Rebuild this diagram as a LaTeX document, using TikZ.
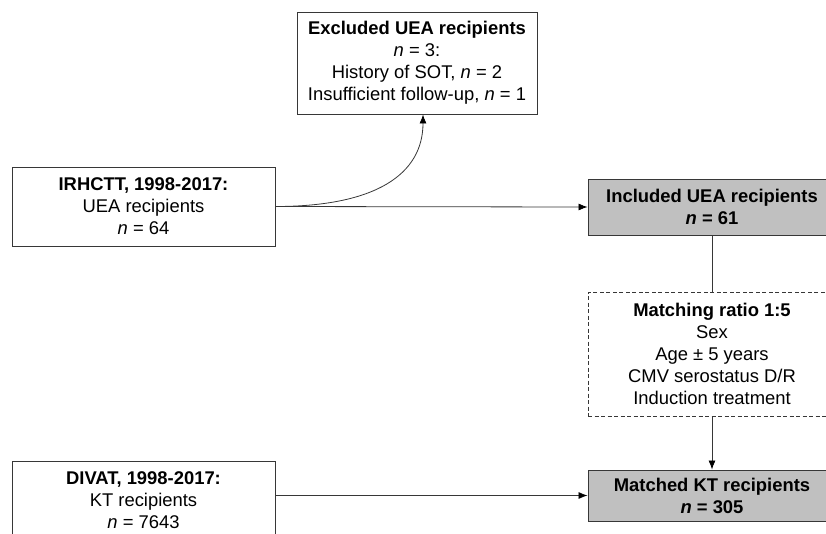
\documentclass[tikz,border=0pt]{standalone}
\usepackage{fontspec}
\setmainfont{Liberation Sans}
\usetikzlibrary{arrows.meta}
\definecolor{boxgray}{RGB}{192,192,192}
\definecolor{linegray}{RGB}{55,55,55}
\begin{document}
\begin{tikzpicture}[x=1pt,y=-1pt,
  box/.style={draw=linegray, line width=0.9pt, align=center, inner sep=0pt,
    font=\fontsize{18.4}{22}\selectfont},
  filledbox/.style={box, fill=boxgray},
  dashbox/.style={box, dash pattern=on 4pt off 2.5pt},
  conn/.style={draw=linegray, line width=0.8pt},
  arr/.style={conn, -{Latex[length=9pt,width=7pt,color=black]}}]
\useasboundingbox (0,0) rectangle (826,533);
\clip (0,0) rectangle (826,533);
\node[box, minimum width=263pt, minimum height=79pt] (irh) at (143.5,206.5)
  {\textbf{IRHCTT, 1998-2017:}\\UEA recipients\\\textit{n} = 64};
\node[box, minimum width=240pt, minimum height=102pt] (exc) at (417,63)
  {\textbf{Excluded UEA recipients}\\\textit{n} = 3:\\History of SOT, \textit{n} = 2\\Insufficient follow-up, \textit{n} = 1};
\node[filledbox, minimum width=248pt, minimum height=56pt] (inc) at (712,207)
  {\textbf{Included UEA recipients}\\\textbf{\textit{n} = 61}};
\node[dashbox, minimum width=248pt, minimum height=124pt] (mr) at (712,354)
  {\textbf{Matching ratio 1:5}\\Sex\\Age ± 5 years\\CMV serostatus D/R\\Induction treatment};
\node[filledbox, minimum width=248pt, minimum height=51pt] (mkt) at (712,495.5)
  {\textbf{Matched KT recipients}\\\textbf{\textit{n} = 305}};
\node[box, minimum width=263pt, minimum height=79pt] (div) at (143.5,500.5)
  {\textbf{DIVAT, 1998-2017:}\\KT recipients\\\textit{n} = 7643};
\coordinate (exctip) at ([xshift=6pt]exc.south);
\draw[arr] (irh.east) .. controls ++(100,0) and ++(0,60) .. (exctip);
\draw[arr] (irh.east) -- (inc.west);
\draw[conn] (inc.south) -- (mr.north);
\draw[arr] (mr.south) -- (mkt.north);
\draw[arr] (div.east |- mkt.west) -- (mkt.west);
\end{tikzpicture}
\end{document}
